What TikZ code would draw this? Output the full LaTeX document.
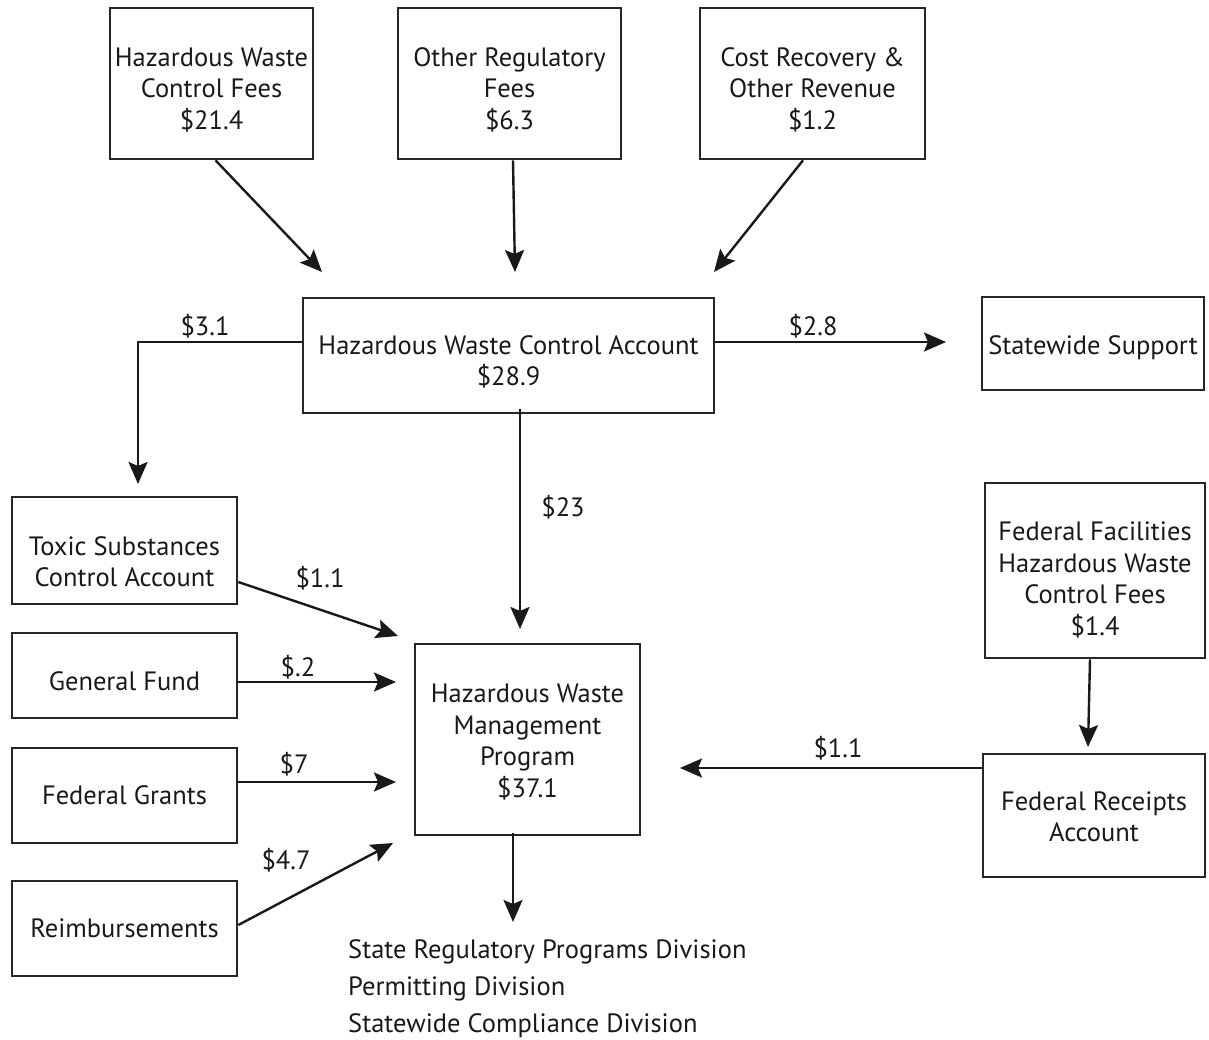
\documentclass[tikz,border=0pt]{standalone}
\usepackage{fontspec}
\setmainfont{PT Sans}
\usetikzlibrary{arrows.meta,calc}
\newcommand{\bxt}[2][8pt]{\raisebox{-#1}[\height][\depth]{\begin{tabular}{@{}c@{}}#2\end{tabular}}}
\begin{document}
\begin{tikzpicture}[x=1pt,y=-1pt,
  box/.style={draw=black!85,line width=2.6pt,inner sep=0pt,align=center,
    font=\fontsize{26.5}{31.5}\selectfont,text=black!90},
  flow/.style={draw=black!90,line width=2.4pt,-{Stealth[length=22pt,width=19pt,inset=4pt]}},
  lbl/.style={font=\fontsize{26.5}{31.5}\selectfont,text=black!90,inner sep=0pt}]
\useasboundingbox (0,0) rectangle (1209,1040);
% boxes
\node[box,minimum width=203pt,minimum height=151pt] (hwcf) at (211.5,83.5) {\bxt{Hazardous Waste\\Control Fees\\\$21.4}};
\node[box,minimum width=223pt,minimum height=151pt] (orf) at (509.5,83.5) {\bxt{Other Regulatory\\Fees\\\$6.3}};
\node[box,minimum width=225pt,minimum height=151pt] (crr) at (812.5,83.5) {\bxt{Cost Recovery \&\\Other Revenue\\\$1.2}};
\node[box,minimum width=411pt,minimum height=115pt] (hwca) at (508.5,355.5) {\bxt{Hazardous Waste Control Account\\\$28.9}};
\node[box,minimum width=222pt,minimum height=93pt] (ss) at (1093,343.5) {\bxt[5pt]{Statewide Support}};
\node[box,minimum width=225pt,minimum height=107pt] (tsca) at (124.5,550.5) {\bxt[14pt]{Toxic Substances\\Control Account}};
\node[box,minimum width=225pt,minimum height=85pt] (gf) at (124.5,675.5) {\bxt[9pt]{General Fund}};
\node[box,minimum width=225pt,minimum height=95pt] (fg) at (124.5,795.5) {\bxt[3pt]{Federal Grants}};
\node[box,minimum width=225pt,minimum height=95pt] (rb) at (124.5,928.5) {\bxt[3pt]{Reimbursements}};
\node[box,minimum width=225pt,minimum height=191pt] (hwmp) at (527.5,739.5) {\bxt[4pt]{Hazardous Waste\\Management\\Program\\\$37.1}};
\node[box,minimum width=220pt,minimum height=175pt] (ffhw) at (1095,570.5) {\bxt[11pt]{Federal Facilities\\Hazardous Waste\\Control Fees\\\$1.4}};
\node[box,minimum width=222pt,minimum height=123pt] (fra) at (1094,815.5) {\bxt[4pt]{Federal Receipts\\Account}};
\node[lbl,anchor=base west,align=left,font=\fontsize{26.5}{37}\selectfont] (divs) at (348,1032)
  {State Regulatory Programs Division\\Permitting Division\\Statewide Compliance Division};
% arrow tips (free ends)
\coordinate (t1) at (322,272);
\coordinate (t2) at (515,272);
\coordinate (t3) at (714,272);
\coordinate (t4) at (138,484);
\coordinate (t5) at (946,342);
\coordinate (t6) at (520,629);
\coordinate (t7) at (398,636);
\coordinate (t8) at (396,682);
\coordinate (t9) at (396,782);
\coordinate (t10) at (393,843);
\coordinate (t11) at (513,922);
\coordinate (t12) at (1088,747);
\coordinate (t13) at (680,768);
% connectors
\draw[flow] ([xshift=4pt]hwcf.south) -- (t1);
\draw[flow] ([xshift=3.5pt]orf.south) -- (t2);
\draw[flow] ([xshift=-9.5pt]crr.south) -- (t3);
\draw[flow] (hwca.west |- 0,342) -| (t4);
\draw[flow] (hwca.east |- 0,342) -- (t5);
\draw[flow] ([xshift=11.5pt,yshift=5pt]hwca.south) -- (t6);
\draw[flow] (tsca.east |- 0,582) -- (t7);
\draw[flow] (gf.east |- 0,682) -- (t8);
\draw[flow] (fg.east |- 0,782) -- (t9);
\draw[flow] (rb.east |- 0,925) -- (t10);
\draw[flow] ([xshift=-14.5pt,yshift=3pt]hwmp.south) -- (t11);
\draw[flow] ([xshift=-5pt]ffhw.south) -- (t12);
\draw[flow] (fra.west |- 0,768) -- (t13);
% labels
\node[lbl] (l1) at (205,326) {\$3.1};
\node[lbl] (l2) at (813,326) {\$2.8};
\node[lbl] (l3) at (563,507) {\$23};
\node[lbl] (l4) at (320,578) {\$1.1};
\node[lbl] (l5) at (298,667) {\$.2};
\node[lbl] (l6) at (294,764) {\$7};
\node[lbl] (l7) at (286,860) {\$4.7};
\node[lbl] (l8) at (838,748) {\$1.1};
\end{tikzpicture}
\end{document}
